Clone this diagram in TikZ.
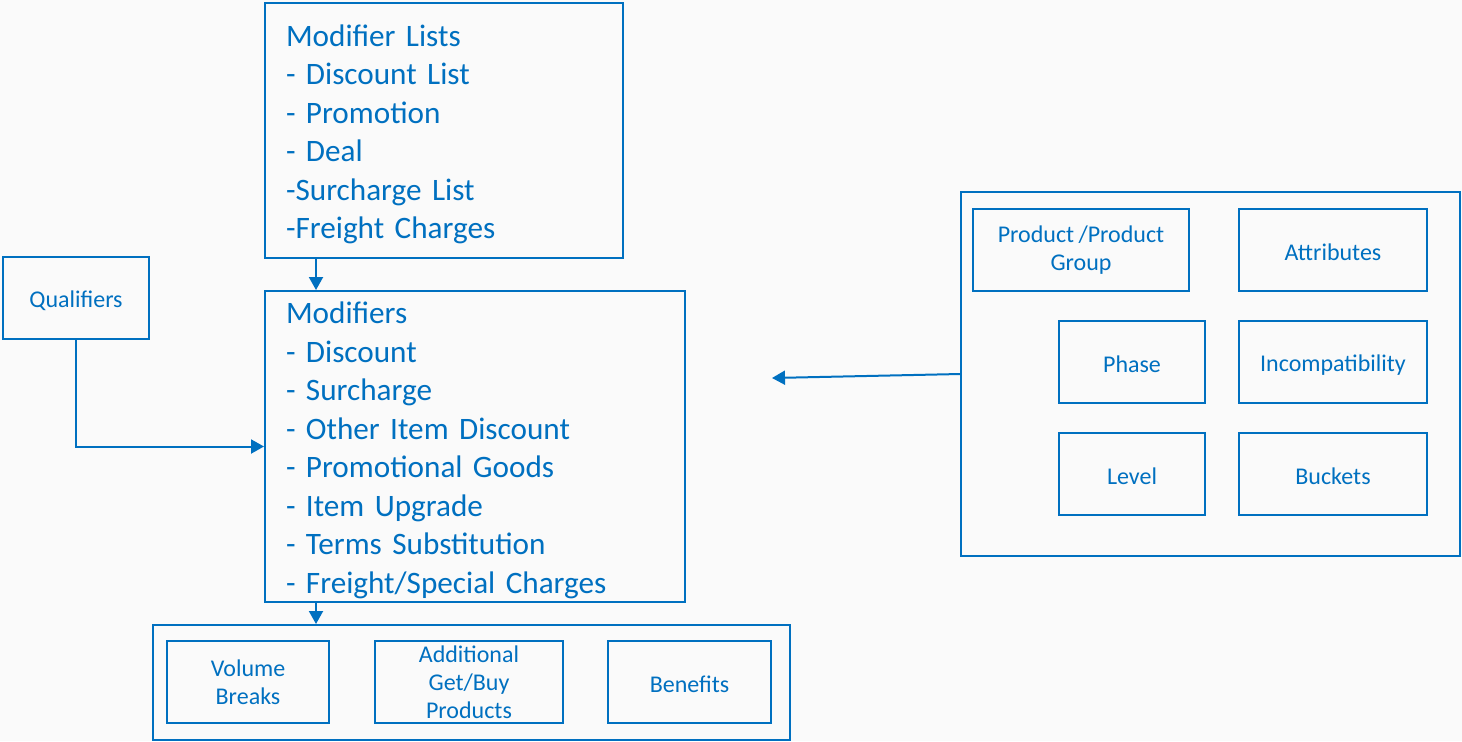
\documentclass[tikz,border=0pt]{standalone}
\usepackage{fontspec}
\setmainfont{Carlito}[WordSpace=0.8]
\usetikzlibrary{arrows.meta}
\definecolor{mblue}{HTML}{0070C0}
\definecolor{bgc}{HTML}{FAFAFA}
\begin{document}
\begin{tikzpicture}[x=0.5pt,y=-0.5pt,
  box/.style={draw=mblue,line width=1pt,text=mblue,align=center,inner sep=0pt,
    font=\fontsize{12pt}{14pt}\selectfont,execute at begin node={\rule{0pt}{11pt}}},
  bigframe/.style={draw=mblue,line width=1pt,inner sep=0pt},
  bigtext/.style={text=mblue,align=left,inner sep=0pt,
    font=\fontsize{15.6pt}{19.25pt}\selectfont},
  cont/.style={draw=mblue,line width=1pt,inner sep=0pt},
  arr/.style={draw=mblue,line width=1pt,-{Triangle[length=6.5pt,width=7pt]}}]
\fill[bgc] (0,0) rectangle (1462,741);
\useasboundingbox (0,0) rectangle (1462,741);
% Modifier lists
\node[bigframe,minimum width=179pt,minimum height=127.5pt] (mlist) at (444,130.5) {};
\node[bigtext,text width=158pt,yshift=-2pt] (mlistT) at (mlist)
  {Modifier Lists\\- Discount List\\- Promotion\\- Deal\\-Surcharge List\\-Freight Charges};
% Modifiers
\node[bigframe,minimum width=210pt,minimum height=155.5pt] (mods) at (475,446.5) {};
\node[bigtext,text width=189pt,yshift=-2pt] (modsT) at (mods)
  {Modifiers\\- Discount\\- Surcharge\\- Other Item Discount\\- Promotional Goods\\- Item Upgrade\\- Terms Substitution\\- Freight/Special Charges};
% Qualifiers
\node[box,minimum width=73pt,minimum height=41pt] (qual) at (76,298) {Qualifiers};
% bottom container
\node[cont,minimum width=318.5pt,minimum height=57.5pt] (bot) at (471.5,682.5) {};
\node[box,minimum width=81pt,minimum height=41pt] (vol) at (248,682) {Volume\\Breaks};
\node[box,minimum width=94pt,minimum height=41pt] (addl) at (469,682) {Additional\\Get/Buy\\Products};
\node[box,minimum width=81.5pt,minimum height=41pt] (ben) at (689.5,682) {Benefits};
% right container
\node[cont,minimum width=249.5pt,minimum height=182pt] (rc) at (1210.5,374) {};
\node[box,minimum width=108pt,minimum height=41pt] (prod) at (1081,250) {Product /Product\\Group};
\node[box,minimum width=94pt,minimum height=41pt] (attr) at (1333,250) {Attributes};
\node[box,minimum width=73pt,minimum height=41pt] (phase) at (1132,362) {Phase};
\node[box,minimum width=94pt,minimum height=41pt] (incomp) at (1333,362) {Incompatibility};
\node[box,minimum width=73pt,minimum height=41pt] (level) at (1132,474) {Level};
\node[box,minimum width=94pt,minimum height=41pt] (buck) at (1333,474) {Buckets};
% connectors
\draw[arr] ([xshift=26pt]mlist.south west) -- ([xshift=26pt]mods.north west);
\draw[arr] (qual.south) |- (mods.west);
\draw[arr] ([xshift=26pt]mods.south west) -- ([xshift=26pt]mods.south west |- bot.north);
\coordinate (tip) at (772,378);
\draw[arr] (rc.west) -- (tip);
\end{tikzpicture}
\end{document}
